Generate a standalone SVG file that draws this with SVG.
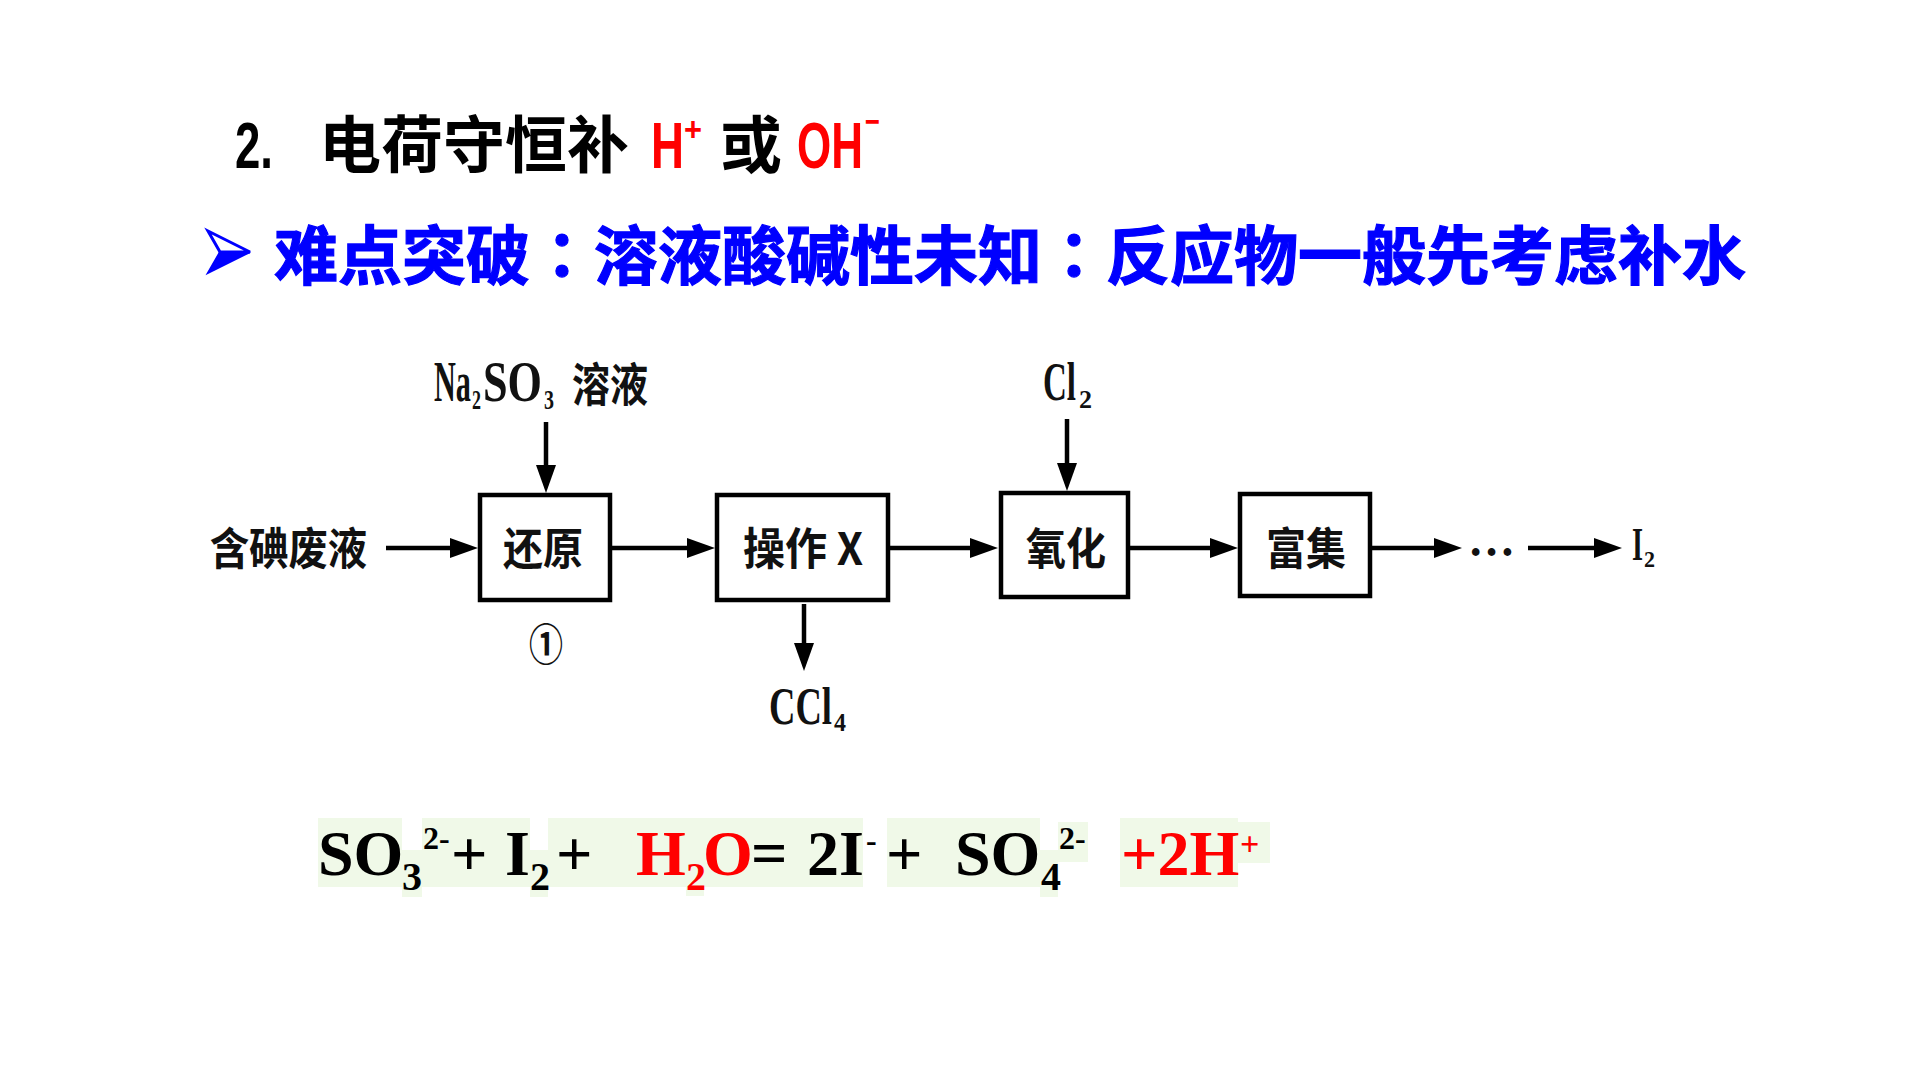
<svg xmlns="http://www.w3.org/2000/svg" width="1920" height="1080" viewBox="0 0 1920 1080">
<defs>
<style>
.cjk{font-family:"Noto Sans CJK SC","Noto Sans",sans-serif;font-weight:700}
.tc{font-family:"Noto Sans CJK TC","Noto Sans CJK SC",sans-serif}
.lat{font-family:"Liberation Sans",Arial,sans-serif;font-weight:700}
.ser{font-family:"Liberation Serif","Times New Roman",serif;font-weight:700}
.eq{font-family:"Liberation Serif","Times New Roman",serif;font-weight:700}
.red{fill:#FF0000}
.blk{fill:#000}
.blue{fill:#0000FF;stroke:#0000FF;stroke-width:1.2}
.box{fill:#fff;stroke:#000;stroke-width:4.5}
.lbl{fill:#111}
.conn{stroke:#000;stroke-width:4.5;fill:none;marker-end:url(#ah)}
.hl{fill:#F0F9E8}
</style>
<marker id="ah" viewBox="0 0 28 20" refX="16" refY="10" markerWidth="28" markerHeight="20" markerUnits="userSpaceOnUse" orient="auto">
<path d="M0,0 L28,10 L0,20 Z" fill="#000"/>
</marker>
</defs>
<rect width="1920" height="1080" fill="#fff"/>

<g id="title">
<text class="lat blk" x="235" y="168" font-size="64" textLength="38" lengthAdjust="spacingAndGlyphs">2.</text>
<text class="cjk blk" x="319" y="168" font-size="62">电荷守恒补</text>
<text class="lat red" x="651" y="168" font-size="64" textLength="33" lengthAdjust="spacingAndGlyphs">H</text>
<text class="lat red" x="684" y="141" font-size="34" textLength="18" lengthAdjust="spacingAndGlyphs">+</text>
<text class="cjk blk" x="720" y="168" font-size="62">或</text>
<text class="lat red" x="797" y="168" font-size="64" textLength="66" lengthAdjust="spacingAndGlyphs">OH</text>
<text class="lat red" x="865" y="133" font-size="34" textLength="15" lengthAdjust="spacingAndGlyphs">−</text>
</g>

<g id="subtitle">
<path d="M208,231 L250,252 L220,252 Z" fill="#fff" stroke="#0000FF" stroke-width="3" stroke-linejoin="miter"/>
<path d="M220,252 L250,252 L208,273 Z" fill="#0000FF" stroke="#0000FF" stroke-width="2"/>
<text class="cjk blue" x="274" y="279" font-size="64" font-weight="900" textLength="1472" lengthAdjust="spacingAndGlyphs">难点突破<tspan class="tc">：</tspan>溶液酸碱性未知<tspan class="tc">：</tspan>反应物一般先考虑补水</text>
</g>

<g id="connectors">
<path class="conn" d="M386,548 H466"/>
<path class="conn" d="M612,548 H703"/>
<path class="conn" d="M890,548 H986"/>
<path class="conn" d="M1130,548 H1226"/>
<path class="conn" d="M1372,548 H1450"/>
<path class="conn" d="M1528,548 H1610"/>
<path class="conn" d="M546,422 V481" stroke-width="4"/>
<path class="conn" d="M1067,419 V479" stroke-width="4"/>
<path class="conn" d="M804,604 V659" stroke-width="4"/>
</g>

<g id="node-input">
<text class="cjk lbl" x="210" y="565" font-size="44" textLength="157" lengthAdjust="spacingAndGlyphs">含碘废液</text>
</g>

<g id="node-na2so3">
<text class="ser lbl" x="434" y="401" font-size="56" textLength="37" lengthAdjust="spacingAndGlyphs">Na</text>
<text class="ser lbl" x="472" y="409" font-size="28" textLength="9" lengthAdjust="spacingAndGlyphs">2</text>
<text class="ser lbl" x="483" y="401" font-size="56" textLength="59" lengthAdjust="spacingAndGlyphs">SO</text>
<text class="ser lbl" x="544" y="409" font-size="28" textLength="10" lengthAdjust="spacingAndGlyphs">3</text>
<text class="cjk lbl" x="572" y="401" font-size="46" textLength="76" lengthAdjust="spacingAndGlyphs">溶液</text>
</g>

<g id="node-huanyuan">
<rect class="box" x="480" y="495" width="130" height="105"/>
<text class="cjk lbl" x="503" y="565" font-size="44" textLength="80" lengthAdjust="spacingAndGlyphs">还原</text>
<text class="cjk lbl" x="529" y="661" font-size="44" font-weight="400" textLength="34" lengthAdjust="spacingAndGlyphs">①</text>
</g>

<g id="node-caozuo">
<rect class="box" x="717" y="495" width="171" height="105"/>
<text class="cjk lbl" x="743" y="565" font-size="44" textLength="120" lengthAdjust="spacingAndGlyphs">操作 X</text>
</g>

<g id="node-ccl4">
<text class="ser lbl" x="769" y="724" font-size="52" textLength="63" lengthAdjust="spacingAndGlyphs">CCl</text>
<text class="ser lbl" x="834" y="731" font-size="26" textLength="12" lengthAdjust="spacingAndGlyphs">4</text>
</g>

<g id="node-cl2">
<text class="ser lbl" x="1043" y="400" font-size="54" textLength="33" lengthAdjust="spacingAndGlyphs">Cl</text>
<text class="ser lbl" x="1079" y="408" font-size="26" textLength="13" lengthAdjust="spacingAndGlyphs">2</text>
</g>

<g id="node-yanghua">
<rect class="box" x="1001" y="493" width="127" height="104"/>
<text class="cjk lbl" x="1026" y="565" font-size="44" textLength="80" lengthAdjust="spacingAndGlyphs">氧化</text>
</g>

<g id="node-fuji">
<rect class="box" x="1240" y="494" width="130" height="102"/>
<text class="cjk lbl" x="1266" y="565" font-size="44" textLength="80" lengthAdjust="spacingAndGlyphs">富集</text>
</g>

<g id="node-dots">
<text class="ser lbl" x="1468" y="556" font-size="48" textLength="47" lengthAdjust="spacingAndGlyphs">…</text>
</g>

<g id="node-i2">
<text class="ser lbl" x="1632" y="560" font-size="46" textLength="11" lengthAdjust="spacingAndGlyphs">I</text>
<text class="ser lbl" x="1644" y="567" font-size="24" textLength="11" lengthAdjust="spacingAndGlyphs">2</text>
</g>

<g id="equation">
<rect class="hl" x="318" y="818" width="84" height="69"/>
<rect class="hl" x="402" y="850" width="20" height="47"/>
<rect class="hl" x="422" y="818" width="108" height="69"/>
<rect class="hl" x="530" y="850" width="18" height="47"/>
<rect class="hl" x="548" y="818" width="315" height="69"/>
<rect class="hl" x="686" y="850" width="18" height="46"/>
<rect class="hl" x="887" y="818" width="153" height="69"/>
<rect class="hl" x="1040" y="850" width="18" height="47"/>
<rect class="hl" x="1058" y="822" width="30" height="40"/>
<rect class="hl" x="1120" y="818" width="118" height="69"/>
<rect class="hl" x="1238" y="822" width="32" height="41"/>

<text class="eq blk" x="318" y="875" font-size="64">SO</text>
<text class="eq blk" x="402" y="890" font-size="40">3</text>
<text class="eq blk" x="423" y="849" font-size="32">2-</text>
<text class="eq blk" x="451" y="875" font-size="64">+</text>
<text class="eq blk" x="505" y="875" font-size="64">I</text>
<text class="eq blk" x="530" y="890" font-size="40">2</text>
<text class="eq blk" x="556" y="875" font-size="64">+</text>
<text class="eq red" x="636" y="875" font-size="64">H</text>
<text class="eq red" x="686" y="890" font-size="40">2</text>
<text class="eq red" x="703" y="875" font-size="64">O</text>
<text class="eq blk" x="751" y="875" font-size="64">=</text>
<text class="eq blk" x="807" y="875" font-size="64">2I</text>
<text class="eq blk" x="866" y="851" font-size="32">-</text>
<text class="eq blk" x="886" y="875" font-size="64">+</text>
<text class="eq blk" x="955" y="875" font-size="64">SO</text>
<text class="eq blk" x="1041" y="890" font-size="40">4</text>
<text class="eq blk" x="1059" y="849" font-size="32">2-</text>
<text class="eq red" x="1121" y="875" font-size="64">+2H</text>
<text class="eq red" x="1240" y="855" font-size="34">+</text>
</g>
</svg>
